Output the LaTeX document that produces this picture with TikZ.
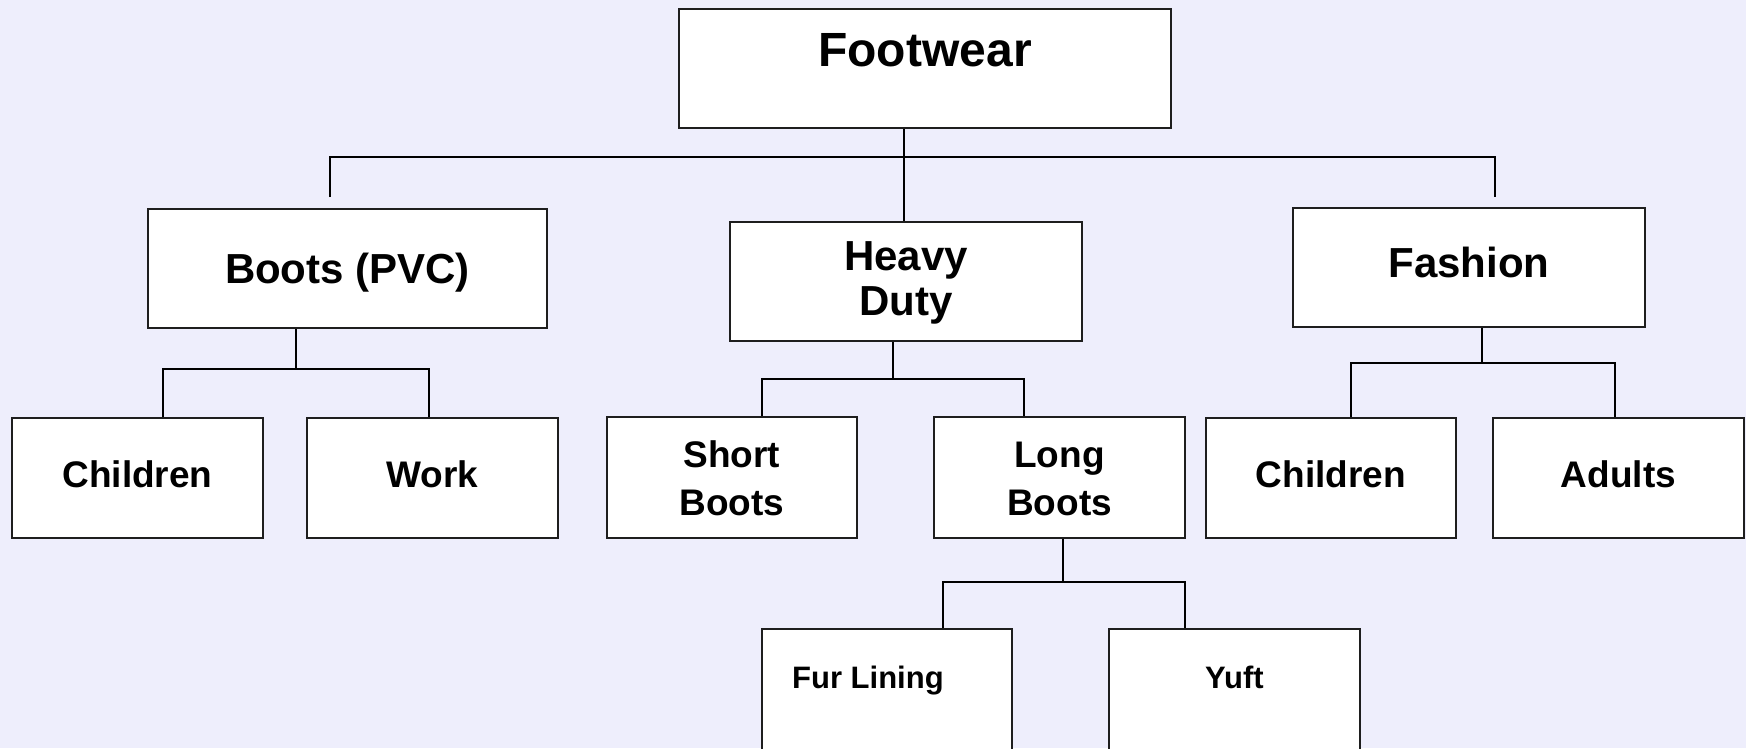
\documentclass[tikz,border=0pt]{standalone}
\usepackage{fontspec}
\setmainfont{Liberation Sans}
\definecolor{bgc}{HTML}{EEEEFC}
\definecolor{edge}{HTML}{1E1E1E}
\begin{document}
\begin{tikzpicture}[x=1pt,y=-1pt,
  box/.style={draw=edge, line width=2pt, fill=white, rectangle, inner sep=0pt},
  conn/.style={draw=black, line width=1.7pt},
  big/.style={font=\fontsize{48}{50}\selectfont\bfseries, anchor=base, inner sep=0pt},
  mid/.style={font=\fontsize{42}{44}\selectfont\bfseries, anchor=base, inner sep=0pt},
  sml/.style={font=\fontsize{37}{39}\selectfont\bfseries, anchor=base, inner sep=0pt},
  tny/.style={font=\fontsize{31}{33}\selectfont\bfseries, anchor=base, inner sep=0pt}]
\useasboundingbox (0,0) rectangle (1746,748);
\fill[bgc] (0,0) rectangle (1746,748);
\clip (0,0) rectangle (1746,748);

% boxes
\node[box, minimum width=492pt, minimum height=119pt] (fw) at (925,68.5) {};
\node[box, minimum width=399pt, minimum height=119pt] (boots) at (347.5,268.5) {};
\node[box, minimum width=352pt, minimum height=119pt] (heavy) at (906,281.5) {};
\node[box, minimum width=352pt, minimum height=119pt] (fashion) at (1469,267.5) {};
\node[box, minimum width=251pt, minimum height=120pt] (ch1) at (137.5,478) {};
\node[box, minimum width=251pt, minimum height=120pt] (work) at (432.5,478) {};
\node[box, minimum width=250pt, minimum height=121pt] (short) at (732,477) {};
\node[box, minimum width=251pt, minimum height=121pt] (long) at (1059.5,477) {};
\node[box, minimum width=250pt, minimum height=120pt] (ch2) at (1331,478) {};
\node[box, minimum width=251pt, minimum height=120pt] (adults) at (1618.5,478) {};
\node[box, minimum width=250pt, minimum height=141pt] (fur) at (887,699.5) {};
\node[box, minimum width=251pt, minimum height=141pt] (yuft) at (1234.5,699.5) {};

% texts
\node[big] (fwt) at (925,66) {Footwear};
\node[mid] (bootst) at (347.5,283) {Boots (PVC)};
\node[mid] (heavyt1) at (906,270) {Heavy};
\node[mid] (heavyt2) at (906,315) {Duty};
\node[mid] (fashiont) at (1469,277) {Fashion};
\node[sml] (ch1t) at (137.5,487) {Children};
\node[sml] (workt) at (432.5,487) {Work};
\node[sml] (shortt1) at (732,467) {Short};
\node[sml] (shortt2) at (732,515) {Boots};
\node[sml] (longt1) at (1059.5,467) {Long};
\node[sml] (longt2) at (1059.5,515) {Boots};
\node[sml] (ch2t) at (1331,487) {Children};
\node[sml] (adultst) at (1618.5,487) {Adults};
\node[tny, anchor=base west] (furt) at (792,688) {Fur Lining};
\node[tny] (yuftt) at (1234.5,688) {Yuft};

% junction coordinates
\coordinate (tM) at (904,157);
\coordinate (tL) at (330,157);
\coordinate (tR) at (1495,157);
\coordinate (tLd) at (330,197);
\coordinate (tRd) at (1495,197);
\coordinate (bM) at (296,369);
\coordinate (bL) at (163,369);
\coordinate (bR) at (429,369);
\coordinate (hM) at (893,379);
\coordinate (hL) at (762,379);
\coordinate (hR) at (1024,379);
\coordinate (fM) at (1482,363);
\coordinate (fL) at (1351,363);
\coordinate (fR) at (1615,363);
\coordinate (lM) at (1063,582);
\coordinate (lL) at (943,582);
\coordinate (lR) at (1185,582);

% connectors
\draw[conn] (fw.south -| tM) -- (heavy.north -| tM);
\draw[conn] (tLd) -- (tL) -- (tR) -- (tRd);
\draw[conn] (boots.south -| bM) -- (bM);
\draw[conn] (ch1.north -| bL) -- (bL) -- (bR) -- (work.north -| bR);
\draw[conn] (heavy.south -| hM) -- (hM);
\draw[conn] (short.north -| hL) -- (hL) -- (hR) -- (long.north -| hR);
\draw[conn] (fashion.south -| fM) -- (fM);
\draw[conn] (ch2.north -| fL) -- (fL) -- (fR) -- (adults.north -| fR);
\draw[conn] (long.south -| lM) -- (lM);
\draw[conn] (fur.north -| lL) -- (lL) -- (lR) -- (yuft.north -| lR);
\end{tikzpicture}
\end{document}
